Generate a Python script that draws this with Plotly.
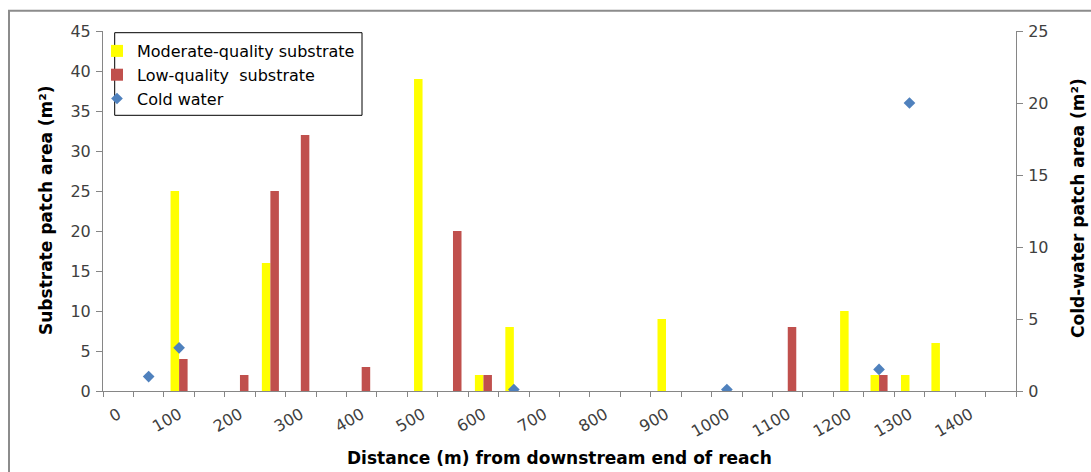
import plotly.graph_objects as go

# Distance categories are 50 m bins; labels every 100 m
tick_labels = [str(v) for v in range(0, 1500, 100)]
bin_edges = [v - 25 for v in range(0, 1550, 50)]

# Moderate-quality substrate patches (m²)
moderate_dist = [100, 250, 500, 600, 650, 900, 1200, 1250, 1300, 1350]
moderate_area = [25, 16, 39, 2, 8, 9, 10, 2, 2, 6]

# Low-quality substrate patches (m²)
low_dist = [100, 200, 250, 300, 400, 550, 600, 1100, 1250]
low_area = [4, 2, 25, 32, 3, 20, 2, 8, 2]

# Cold-water patches (m²), secondary axis
cold_dist = [50, 100, 650, 1000, 1250, 1300]
cold_area = [1, 3, 0.1, 0.1, 1.5, 20]

FONT = "DejaVu Sans"
AXIS_GREY = "#868686"
TICK_COLOR = "#404040"

# plot-area geometry in pixels, used to place paper-referenced items
L, R, T, B = 103, 75, 31, 81
PW, PH = 1091 - L - R, 472 - T - B


def px_x(px):
    return (px - L) / PW


def px_y(py):
    return (472 - B - py) / PH


fig = go.Figure()
fig.add_trace(go.Bar(
    x=moderate_dist, y=moderate_area, name="Moderate-quality substrate",
    marker=dict(color="#FFFF00", line=dict(width=0)),
))
fig.add_trace(go.Bar(
    x=low_dist, y=low_area, name="Low-quality  substrate",
    marker=dict(color="#C0504D", line=dict(width=0)),
))
fig.add_trace(go.Scatter(
    x=cold_dist, y=cold_area, name="Cold water", yaxis="y2",
    mode="markers",
    marker=dict(symbol="diamond", size=9, color="#4F81BD"),
))

fig.update_layout(
    width=1091, height=472,
    margin=dict(l=L, r=R, t=T, b=B),
    paper_bgcolor="white", plot_bgcolor="white",
    font=dict(family=FONT, size=16, color=TICK_COLOR),
    barmode="group", bargap=0.44, bargroupgap=0,
    showlegend=True,
    legend=dict(
        x=px_x(97), y=px_y(34), xanchor="left", yanchor="top",
        borderwidth=0, bgcolor="rgba(0,0,0,0)",
        font=dict(family=FONT, size=16, color="#000000"),
        tracegroupgap=0, itemwidth=30,
    ),
    xaxis=dict(
        range=[-25, 1475], showgrid=False, zeroline=False,
        showline=True, linecolor=AXIS_GREY, linewidth=1,
        tickmode="array", tickvals=list(range(0, 1500, 100)), ticktext=tick_labels,
        ticks="", tickangle=-30, ticklabelstandoff=7,
        tickfont=dict(family=FONT, size=16, color=TICK_COLOR),
        minor=dict(tickmode="array", tickvals=bin_edges, ticks="outside",
                   ticklen=5, tickcolor=AXIS_GREY, showgrid=False),
    ),
    yaxis=dict(
        range=[0, 45], dtick=5, showgrid=False, zeroline=False,
        showline=True, linecolor=AXIS_GREY, linewidth=1,
        ticks="outside", ticklen=6, tickcolor=AXIS_GREY,
        ticklabelstandoff=2,
        tickfont=dict(family=FONT, size=16, color=TICK_COLOR),
    ),
    yaxis2=dict(
        range=[0, 25], dtick=5, overlaying="y", side="right",
        showgrid=False, zeroline=False,
        showline=True, linecolor=AXIS_GREY, linewidth=1,
        ticks="outside", ticklen=6, tickcolor=AXIS_GREY,
        ticklabelstandoff=2,
        tickfont=dict(family=FONT, size=16, color=TICK_COLOR),
    ),
    annotations=[
        dict(text="<b>Substrate patch area (m²)</b>", textangle=-90,
             xref="paper", yref="paper", x=px_x(45.5), y=px_y(210.5),
             xanchor="center", yanchor="middle", showarrow=False,
             font=dict(family=FONT, size=17, color="#000000")),
        dict(text="<b>Cold-water patch area (m²)</b>", textangle=-90,
             xref="paper", yref="paper", x=px_x(1078), y=px_y(208),
             xanchor="center", yanchor="middle", showarrow=False,
             font=dict(family=FONT, size=17, color="#000000")),
        dict(text="<b>Distance (m) from downstream end of reach</b>",
             xref="paper", yref="paper", x=0.5, y=px_y(458),
             xanchor="center", yanchor="middle", showarrow=False,
             font=dict(family=FONT, size=17, color="#000000")),
    ],
    shapes=[
        # chart frame
        dict(type="rect", xref="paper", yref="paper",
             x0=px_x(9), x1=px_x(1100), y0=px_y(480), y1=px_y(10.7),
             line=dict(color="#8C8C8C", width=2), layer="below"),
        # legend box
        dict(type="rect", xref="paper", yref="paper",
             x0=px_x(114.7), x1=px_x(362), y0=px_y(115.3), y1=px_y(32.7),
             line=dict(color="#000000", width=1), fillcolor="white",
             layer="below"),
    ],
)

fig.write_html("out.html")
